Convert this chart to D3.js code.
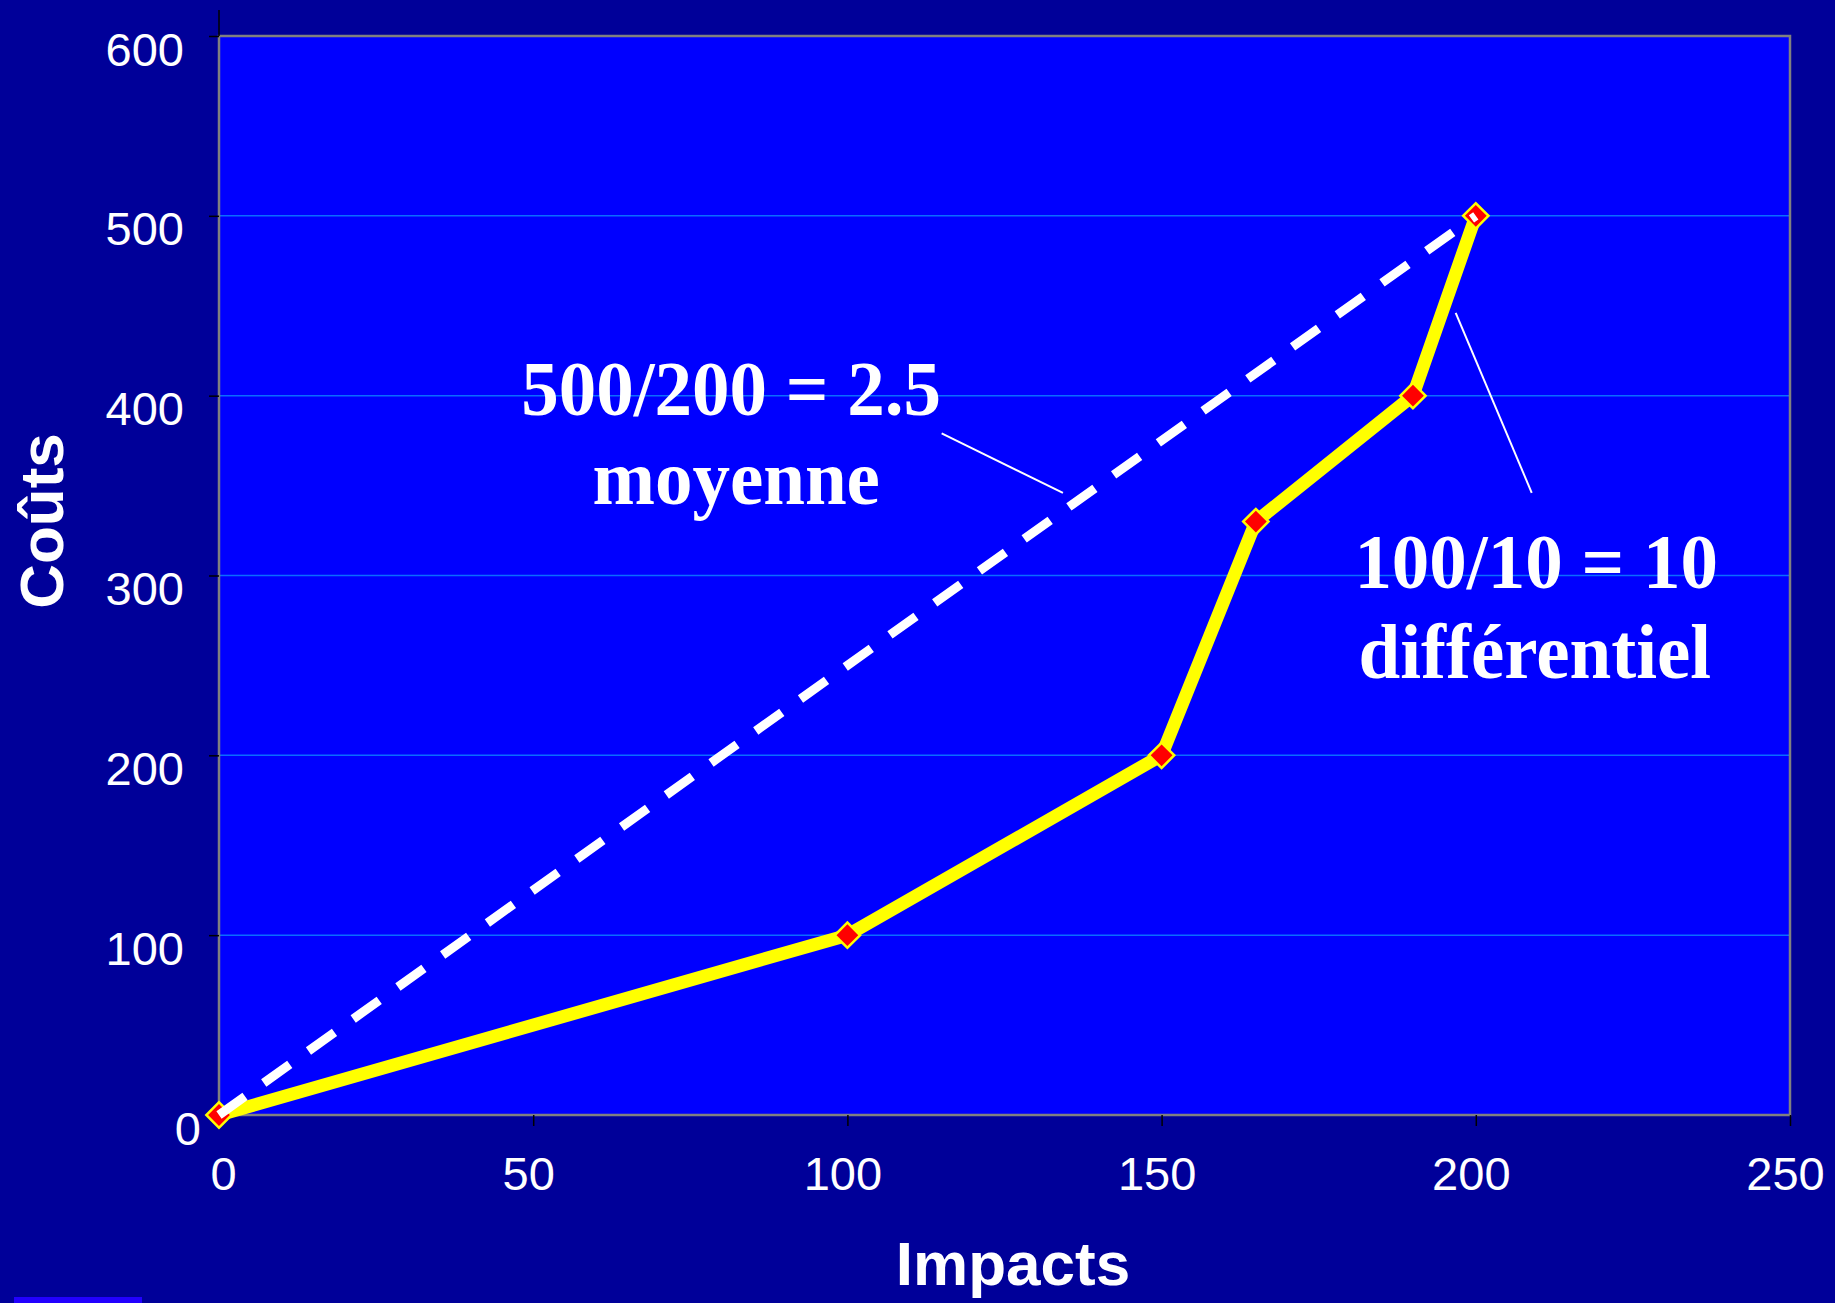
<!DOCTYPE html>
<html>
<head>
  <meta charset="UTF-8">
  <title>Coûts / Impacts</title>
  <script src="https://cdn.jsdelivr.net/npm/d3@7/dist/d3.min.js"></script>
  <style>
    html, body { margin: 0; padding: 0; background: #000099; }
    svg { display: block; }
  </style>
</head>
<body>

<div class="chart"></div>

<script>

  // data
  var impacts = [0, 100, 150, 165, 190, 200];
  var couts   = [0, 100, 200, 330, 400, 500];
  var moyenneX = [0, 200];
  var moyenneY = [0, 500];
  var xTicks = [0, 50, 100, 150, 200, 250];
  var yTicks = [0, 100, 200, 300, 400, 500, 600];

  // annotations, in data units
  var notes = [
    { text: '500/200 = 2.5', x: 81.5, y: 389 },
    { text: 'moyenne',       x: 82.3, y: 340 },
    { text: '100/10 = 10',   x: 209.6, y: 293 },
    { text: 'différentiel',  x: 209.4, y: 243 }
  ];
  var leaders = [
    [[115.0, 379], [134.3, 346]],
    [[196.8, 446], [208.9, 346]]
  ];

  var W = 1835, H = 1303;
  var margin = { top: 36, right: 45, bottom: 188, left: 219 };

  var svg = d3.select('.chart')
    .append('svg')
      .attr('width', W)
      .attr('height', H);

  svg.append('rect')
    .attr('width', W).attr('height', H)
    .attr('fill', '#000099');

  var x = d3.scaleLinear()
    .domain([0, 250])
    .range([margin.left, W - margin.right]);
  var y = d3.scaleLinear()
    .domain([0, 600])
    .range([H - margin.bottom, margin.top]);

  // plot area
  svg.append('rect')
    .attr('x', x(0)).attr('y', y(600))
    .attr('width', x(250) - x(0))
    .attr('height', y(0) - y(600))
    .attr('fill', '#0000ff');

  // grid lines
  svg.append('g')
    .selectAll('line')
    .data(yTicks.filter(d => d > 0 && d < 600))
    .enter().append('line')
      .attr('x1', x(0)).attr('x2', x(250))
      .attr('y1', d => y(d)).attr('y2', d => y(d))
      .attr('stroke', '#0a6cff')
      .attr('stroke-width', 1.5);

  // border
  svg.append('rect')
    .attr('x', x(0)).attr('y', y(600))
    .attr('width', x(250) - x(0))
    .attr('height', y(0) - y(600))
    .attr('fill', 'none')
    .attr('stroke', '#808080')
    .attr('stroke-width', 2.5);

  // small stub of the axis above the plot
  svg.append('line')
    .attr('x1', x(0)).attr('x2', x(0))
    .attr('y1', y(600) - 26).attr('y2', y(600))
    .attr('stroke', '#000').attr('stroke-width', 1.5);

  // Y axis
  var yAxis = d3.axisLeft(y)
    .tickValues(yTicks)
    .tickSize(10)
    .tickPadding(25);
  var gy = svg.append('g')
    .attr('transform', `translate(${x(0)},0)`)
    .call(yAxis);
  gy.select('.domain').remove();
  gy.selectAll('.tick line').attr('stroke', '#000').attr('stroke-width', 1.5);
  gy.selectAll('.tick text')
    .attr('fill', '#fff')
    .attr('dy', '0.62em')
    .attr('dx', d => d === 0 ? 17 : 0)
    .style('font-family', 'Arial, "Liberation Sans", sans-serif')
    .style('font-size', '47px');

  // X axis
  var xAxis = d3.axisBottom(x)
    .tickValues(xTicks)
    .tickSize(11)
    .tickPadding(31);
  var gx = svg.append('g')
    .attr('transform', `translate(0,${y(0)})`)
    .call(xAxis);
  gx.select('.domain').remove();
  gx.selectAll('.tick line').attr('stroke', '#000').attr('stroke-width', 1.5);
  gx.selectAll('.tick text')
    .attr('fill', '#fff')
    .attr('dx', d => d === 0 ? 4 : -5)
    .style('font-family', 'Arial, "Liberation Sans", sans-serif')
    .style('font-size', '47px');

  // axis titles
  svg.append('text')
    .attr('x', 1013).attr('y', 1285)
    .attr('text-anchor', 'middle')
    .attr('fill', '#fff')
    .style('font-family', 'Arial, "Liberation Sans", sans-serif')
    .style('font-weight', 'bold')
    .style('font-size', '62px')
    .text('Impacts');

  svg.append('text')
    .attr('transform', 'translate(63,521) rotate(-90)')
    .attr('text-anchor', 'middle')
    .attr('fill', '#fff')
    .style('font-family', 'Arial, "Liberation Sans", sans-serif')
    .style('font-weight', 'bold')
    .style('font-size', '62px')
    .text('Coûts');

  // yellow cost curve
  var pts = impacts.map((d, i) => [d, couts[i]]);
  var line = d3.line().x(d => x(d[0])).y(d => y(d[1]));

  svg.append('path')
    .datum(pts)
    .attr('d', line)
    .attr('fill', 'none')
    .attr('stroke', '#ffff00')
    .attr('stroke-width', 13)
    .attr('stroke-linejoin', 'round');

  // diamond markers
  svg.append('g')
    .selectAll('path')
    .data(pts)
    .enter().append('path')
      .attr('d', d3.symbol(d3.symbolSquare, 320))
      .attr('transform', d => `translate(${x(d[0])},${y(d[1])}) rotate(45)`)
      .attr('fill', '#ff0000')
      .attr('stroke', '#ffff00')
      .attr('stroke-width', 2.5);

  // dashed average line
  var avg = moyenneX.map((d, i) => [d, moyenneY[i]]);
  svg.append('path')
    .datum(avg)
    .attr('d', line)
    .attr('fill', 'none')
    .attr('stroke', '#ffffff')
    .attr('stroke-width', 9)
    .attr('stroke-dasharray', '32 23');

  // leader lines
  svg.append('g')
    .selectAll('line')
    .data(leaders)
    .enter().append('line')
      .attr('x1', d => x(d[0][0])).attr('y1', d => y(d[0][1]))
      .attr('x2', d => x(d[1][0])).attr('y2', d => y(d[1][1]))
      .attr('stroke', '#fff')
      .attr('stroke-width', 2);

  // annotation text
  svg.append('g')
    .selectAll('text')
    .data(notes)
    .enter().append('text')
      .attr('transform', d => `translate(${x(d.x)},${y(d.y)}) scale(1,1.04)`)
      .attr('text-anchor', 'middle')
      .attr('fill', '#fff')
      .style('font-family', '"Times New Roman", "Liberation Serif", serif')
      .style('font-weight', 'bold')
      .style('font-size', '75px')
      .text(d => d.text);

  // cut-off element at bottom left
  svg.append('rect')
    .attr('x', 14).attr('y', 1297)
    .attr('width', 128).attr('height', 6)
    .attr('fill', '#2200ff');

</script>

</body>
</html>
